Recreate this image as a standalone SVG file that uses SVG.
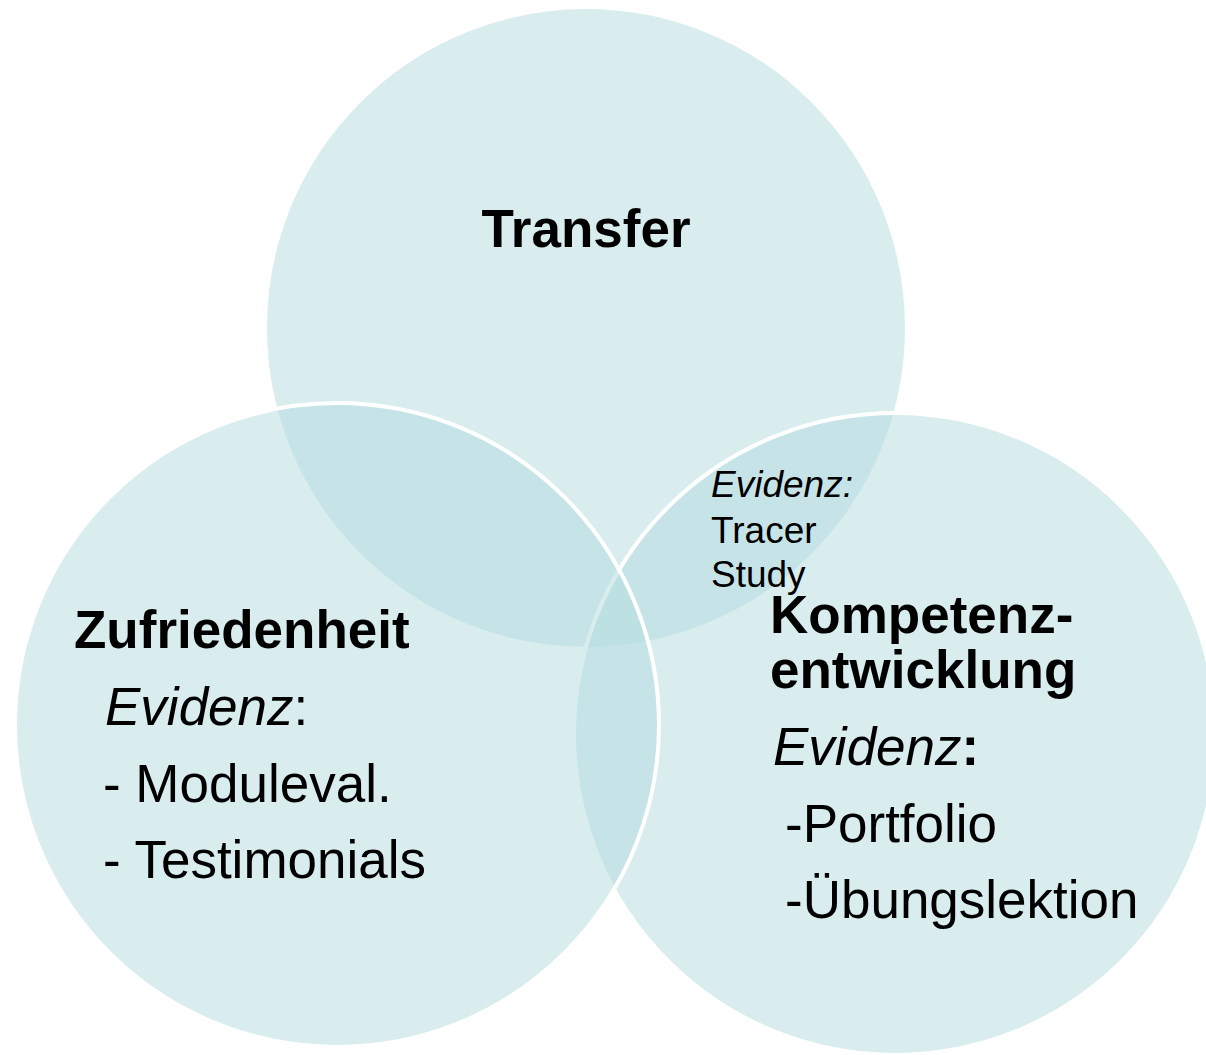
<svg xmlns="http://www.w3.org/2000/svg" width="1206" height="1055" viewBox="0 0 1206 1055">
<style>
.c{fill:#b4dbe0;fill-opacity:0.5;stroke:#ffffff;stroke-width:4}
text{font-family:"Liberation Sans",Arial,sans-serif;fill:#000000}
.b{font-weight:bold;font-size:53px}
.r{font-size:53px}
.s{font-size:37px}
.i{font-style:italic}
</style>
<rect width="1206" height="1055" fill="#ffffff"/>
<g id="node-transfer">
<circle class="c" cx="586" cy="328" r="321"/>
</g>
<g id="node-kompetenz">
<circle class="c" cx="895" cy="734" r="321"/>
</g>
<g id="node-zufriedenheit">
<circle class="c" cx="337" cy="725" r="322"/>
</g>
<g id="connectors"></g>
<g id="labels-transfer">
<text class="b" x="586" y="247" text-anchor="middle">Transfer</text>
<text class="s i" x="711" y="497">Evidenz:</text>
<text class="s" x="711" y="543">Tracer</text>
<text class="s" x="711" y="587">Study</text>
</g>
<g id="labels-zufriedenheit">
<text class="b" x="74" y="648">Zufriedenheit</text>
<text class="r" x="105" y="725"><tspan class="i">Evidenz</tspan>:</text>
<text class="r" x="103" y="802">- Moduleval.</text>
<text class="r" x="103" y="878">- Testimonials</text>
</g>
<g id="labels-kompetenz">
<text class="b" x="770" y="633">Kompetenz-</text>
<text class="b" x="770" y="688">entwicklung</text>
<text class="r" x="773" y="765"><tspan class="i">Evidenz</tspan><tspan font-weight="bold">:</tspan></text>
<text class="r" x="785" y="842">-Portfolio</text>
<text class="r" x="785" y="918">-Übungslektion</text>
</g>
</svg>
